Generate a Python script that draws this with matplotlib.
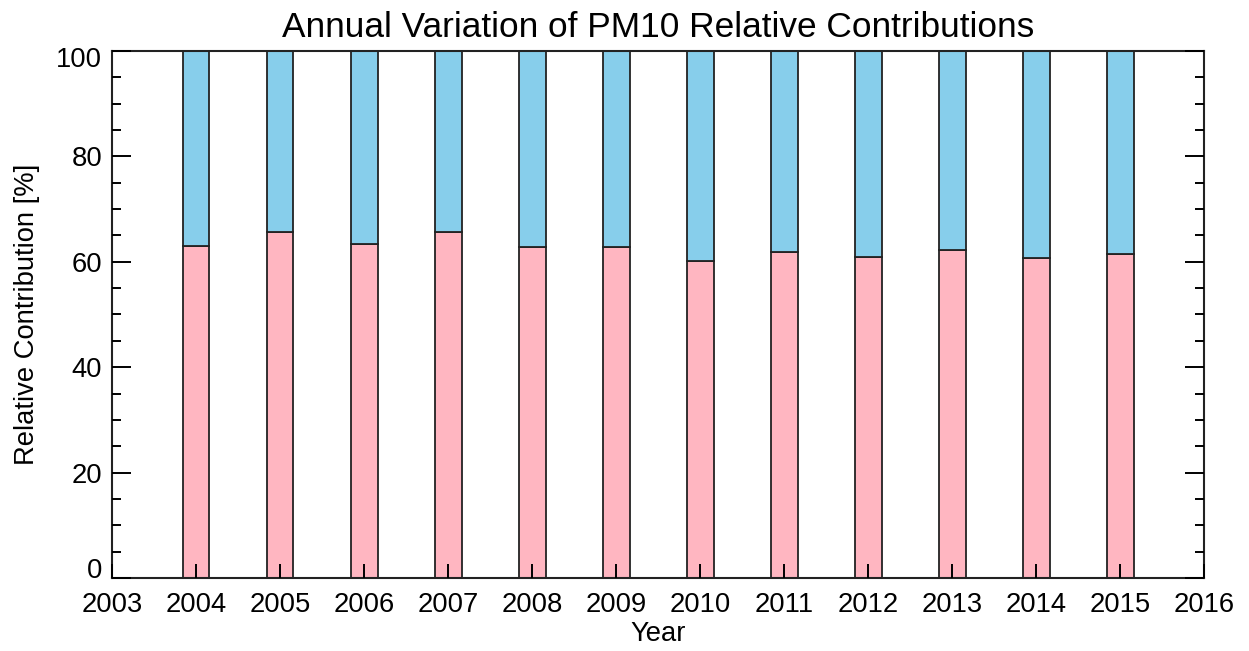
import matplotlib
matplotlib.use("Agg")
import matplotlib.pyplot as plt
import matplotlib.transforms as mtransforms
import numpy as np
from matplotlib.ticker import MultipleLocator

plt.rcParams['font.family'] = ['Liberation Sans', 'DejaVu Sans']

# annual relative contributions (%)
years = [2004, 2005, 2006, 2007, 2008, 2009, 2010, 2011, 2012, 2013, 2014, 2015]
lower_share = [63.0, 65.7, 63.3, 65.7, 62.9, 62.9, 60.2, 61.8, 61.0, 62.2, 60.7, 61.5]
upper_share = [37.0, 34.3, 36.7, 34.3, 37.1, 37.1, 39.8, 38.2, 39.0, 37.8, 39.3, 38.5]
xticks = list(range(2003, 2017))
yticks = [0, 20, 40, 60, 80, 100]

fig = plt.figure(figsize=(12.49, 6.51), dpi=100)
ax = fig.add_axes([0.0897, 0.1121, 0.8744, 0.8096])

x = np.array(years)
w = 0.32
ax.bar(x, lower_share, width=w, color='#FFB6C1', edgecolor='#222222', linewidth=1.3, zorder=2)
ax.bar(x, upper_share, width=w, bottom=lower_share, color='#87CEEB',
       edgecolor='#222222', linewidth=1.3, zorder=2)

ax.set_xlim(2003, 2016)
ax.set_ylim(0, 100)
ax.set_xticks(xticks)
ax.set_xticklabels([str(v) for v in xticks])
ax.set_yticks(yticks)
ax.set_yticklabels([str(v) for v in yticks])
ax.yaxis.set_minor_locator(MultipleLocator(5))

fs = 19.7
ax.tick_params(axis='x', which='major', direction='in', length=10, width=1.4,
               labelsize=fs, pad=10, top=False)
ax.tick_params(axis='y', which='major', direction='in', length=14, width=1.4,
               labelsize=fs, pad=7, right=True)
ax.tick_params(axis='y', which='minor', direction='in', length=6.5, width=1.4, right=True)
ax.set_axisbelow(False)

# keep the end labels inside the axis range
yt = ax.yaxis.get_major_ticks()
yt[0].label1.set_va('baseline')
yt[-1].label1.set_va('top')
yt[-1].label1.set_transform(yt[-1].label1.get_transform() +
                            mtransforms.ScaledTranslation(0, 3 / 72, fig.dpi_scale_trans))

for s in ax.spines.values():
    s.set_linewidth(1.5)
    s.set_color('#222222')

ax.set_title('Annual Variation of PM10 Relative Contributions', fontsize=25.4, pad=10)
ax.set_xlabel('Year', fontsize=fs, labelpad=2)
ax.set_ylabel('Relative Contribution [%]', fontsize=fs, labelpad=12)

fig.savefig('out.png', dpi=100)
